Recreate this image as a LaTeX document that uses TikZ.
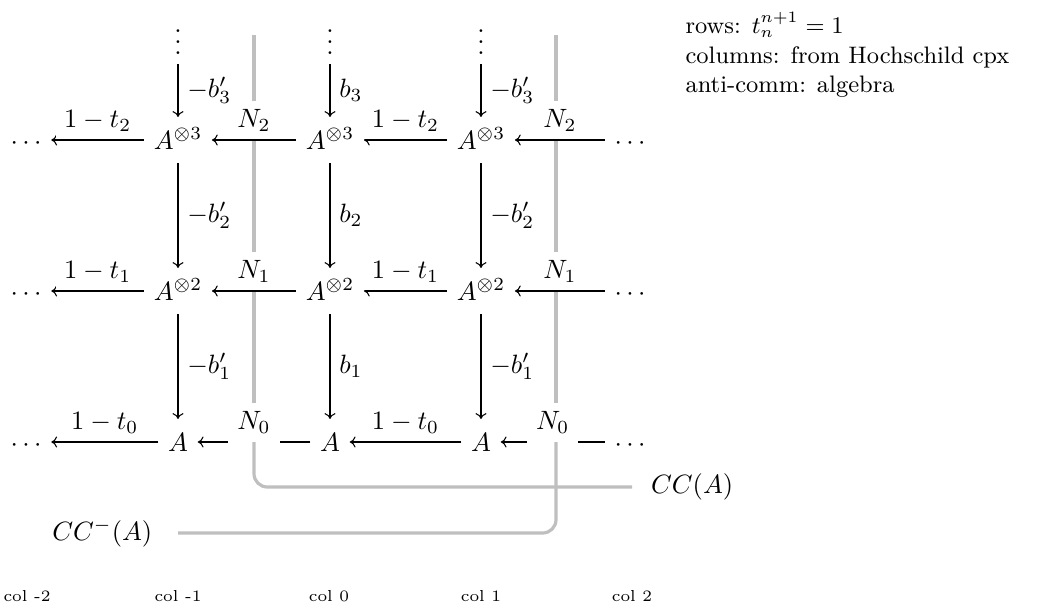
\documentclass[tikz,border=0pt]{standalone}
\usetikzlibrary{arrows.meta}
\begin{document}
\begin{tikzpicture}[x=0.3774pt, y=-0.3774pt,
  cell/.style={text height=9pt, text depth=2pt, inner xsep=3.5pt, inner ysep=3pt},
  vd/.style={anchor=base, inner sep=3.5pt},
  arr/.style={-{To[length=2.2pt,width=4.2pt]}, line width=0.4pt},
  lab/.style={fill=white, inner sep=3pt},
  gline/.style={draw=black!25, line width=1.2pt, rounded corners=5pt},
  collab/.style={anchor=base, font=\fontsize{6}{7}\selectfont, inner sep=0pt}]
\useasboundingbox (0,0) rectangle (1037,603);

% grid nodes
\foreach \r/\y in {3/140,2/291,1/442}{
  \node[cell] (l\r) at (26,\y) {$\cdots$};
  \node[cell] (r\r) at (630,\y) {$\cdots$};
}
\node[cell] (a3) at (178,140) {$A^{\otimes 3}$};
\node[cell] (b3) at (330,140) {$A^{\otimes 3}$};
\node[cell] (c3) at (481,140) {$A^{\otimes 3}$};
\node[cell] (a2) at (178,291) {$A^{\otimes 2}$};
\node[cell] (b2) at (330,291) {$A^{\otimes 2}$};
\node[cell] (c2) at (481,291) {$A^{\otimes 2}$};
\node[cell] (a1) at (178,442) {$A$};
\node[cell] (b1) at (330,442) {$A$};
\node[cell] (c1) at (481,442) {$A$};
\node[vd] (va) at (178,54) {$\vdots$};
\node[vd] (vb) at (330,54) {$\vdots$};
\node[vd] (vc) at (481,54) {$\vdots$};

% gray lines (behind)
\coordinate (g1t) at (254,35);
\coordinate (g1m) at (254,442);
\coordinate (g2t) at (556,35);
\coordinate (g2m) at (556,442);
\draw[gline] (g1t) -- (g1m);
\draw[gline] (g2t) -- (g2m);

% vertical arrows
\draw[arr] (va) -- node[right] {$-b'_3$} (a3);
\draw[arr] (vb) -- node[right] {$b_3$} (b3);
\draw[arr] (vc) -- node[right] {$-b'_3$} (c3);
\draw[arr] (a3) -- node[right] {$-b'_2$} (a2);
\draw[arr] (b3) -- node[right] {$b_2$} (b2);
\draw[arr] (c3) -- node[right] {$-b'_2$} (c2);
\draw[arr] (a2) -- node[right] {$-b'_1$} (a1);
\draw[arr] (b2) -- node[right] {$b_1$} (b1);
\draw[arr] (c2) -- node[right] {$-b'_1$} (c1);

% horizontal arrows
\foreach \r/\k in {3/2,2/1,1/0}{
  \draw[arr] (a\r) -- node[lab,above] {$1-t_{\k}$} (l\r);
  \draw[arr] (b\r) -- node[lab,above] {$N_{\k}$} (a\r);
  \draw[arr] (c\r) -- node[lab,above] {$1-t_{\k}$} (b\r);
  \draw[arr] (r\r) -- node[lab,above] {$N_{\k}$} (c\r);
}

% gaps in bottom row
\fill[white] (228,439.5) rectangle (280,444.5);
\fill[white] (527,439.5) rectangle (578,444.5);

% total complexes
\node[anchor=west, inner xsep=7pt] (cc) at (632,487) {$CC(A)$};
\node[anchor=east, inner xsep=9.5pt] (ccm) at (178,533) {$CC^{-}(A)$};
\draw[gline] (g1m) |- (cc.west);
\draw[gline] (g2m) |- (ccm.east);

% notes
\node[anchor=base west, inner sep=0pt, font=\small] (t1) at (685,33) {rows: $t_n^{n+1} = 1$};
\node[anchor=base west, inner sep=0pt, font=\small] (t2) at (685,63) {columns: from Hochschild cpx};
\node[anchor=base west, inner sep=0pt, font=\small] (t3) at (685,92) {anti-comm: algebra};

% column labels
\node[collab] (k1) at (27,601) {col -2};
\node[collab] (k2) at (178,601) {col -1};
\node[collab] (k3) at (329,601) {col 0};
\node[collab] (k4) at (481,601) {col 1};
\node[collab] (k5) at (632,601) {col 2};
\end{tikzpicture}
\end{document}
